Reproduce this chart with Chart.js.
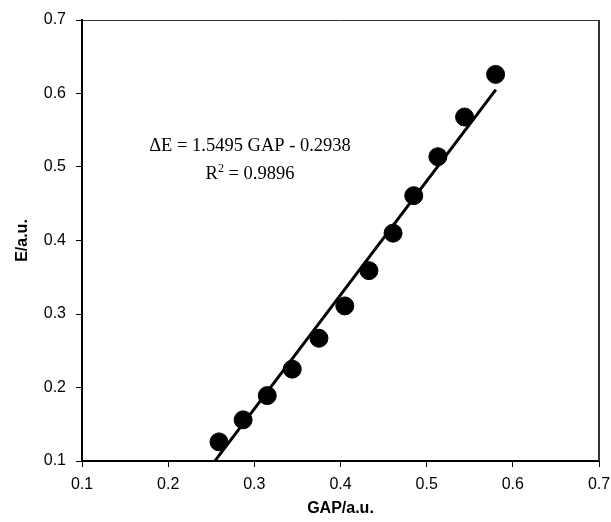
<!DOCTYPE html>
<html>
<head>
<meta charset="utf-8">
<script src="https://cdn.jsdelivr.net/npm/chart.js@4/dist/chart.umd.min.js"></script>
<style>
  body { margin: 0; background: #fff; }
  #wrap { width: 611px; height: 522px; }
</style>
</head>
<body>
<div id="wrap"><canvas id="chart" width="611" height="522"></canvas></div>
<script>
const GAP_VALUES = [0.259, 0.287, 0.315, 0.344, 0.375, 0.405, 0.433, 0.461, 0.485, 0.513, 0.544, 0.580];
const E_VALUES = [0.126, 0.156, 0.189, 0.225, 0.267, 0.311, 0.359, 0.410, 0.461, 0.514, 0.568, 0.626];

// trendline as printed on the figure
const FIT_SLOPE = 1.5495;
const FIT_INTERCEPT = -0.2938;
const FIT_RANGE = [0.2541, 0.5803];
const FIT_LABEL = "\u0394E = 1.5495 GAP - 0.2938";
const FIT_R2 = " = 0.9896";

const AXIS_MIN = 0.1;
const AXIS_MAX = 0.7;

function ScatterChart(chartId) {
  this.chartId = chartId;
  this.chart = null;
}

ScatterChart.prototype.init = function () {
  const points = GAP_VALUES.map((x, i) => ({ x: x, y: E_VALUES[i] }));
  const fitLine = FIT_RANGE.map((x) => ({ x: x, y: FIT_SLOPE * x + FIT_INTERCEPT }));
  this.render(points, fitLine);
};

ScatterChart.prototype.axis = function (title, isY) {
  return {
    type: "linear",
    min: AXIS_MIN,
    max: AXIS_MAX,
    afterFit: (scale) => {
      // the last x label is allowed to run off the canvas, like the original
      scale.paddingLeft = 0;
      scale.paddingRight = 0;
      scale.paddingTop = 0;
      scale.paddingBottom = 0;
      if (isY) scale.width = 82;
      else scale.height = 61;
    },
    ticks: {
      stepSize: 0.1,
      color: "#000",
      padding: isY ? 10 : 8,
      font: { family: "Liberation Sans, Arial", size: 16 },
      callback: (v) => v.toFixed(1),
    },
    grid: {
      display: true,
      drawOnChartArea: false,
      drawTicks: true,
      tickLength: 6,
      color: "#000",
    },
    border: { display: true, color: "#000", width: 2 },
    title: {
      display: true,
      text: title,
      color: "#000",
      font: { family: "Liberation Sans, Arial", size: 16, weight: "bold" },
      padding: isY ? { top: 13, bottom: 0 } : { top: 0, bottom: 4 },
    },
  };
};

// closes the box and writes the regression text
const frameAndLabel = {
  id: "frameAndLabel",
  afterDraw(chart) {
    const ctx = chart.ctx;
    const a = chart.chartArea;
    const big = "18.5px 'Liberation Serif', 'Times New Roman'";
    const small = "12px 'Liberation Serif', 'Times New Roman'";
    ctx.save();
    ctx.strokeStyle = "#333";
    ctx.lineWidth = 1;
    ctx.beginPath();
    ctx.moveTo(a.left, a.top + 0.5);
    ctx.lineTo(a.right, a.top + 0.5);
    ctx.stroke();
    ctx.lineWidth = 2;
    ctx.beginPath();
    ctx.moveTo(a.right, a.top);
    ctx.lineTo(a.right, a.bottom);
    ctx.stroke();

    const cx = chart.scales.x.getPixelForValue(0.295);
    const y1 = chart.scales.y.getPixelForValue(0.528);
    const y2 = chart.scales.y.getPixelForValue(0.490);
    ctx.fillStyle = "#000";
    ctx.textBaseline = "middle";
    ctx.font = big;
    ctx.textAlign = "center";
    ctx.fillText(FIT_LABEL, cx, y1);

    ctx.textAlign = "left";
    const wR = ctx.measureText("R").width;
    const wRest = ctx.measureText(FIT_R2).width;
    ctx.font = small;
    const wSup = ctx.measureText("2").width;
    const x = cx - (wR + wSup + wRest) / 2;
    ctx.font = big;
    ctx.fillText("R", x, y2);
    ctx.font = small;
    ctx.fillText("2", x + wR, y2 - 6);
    ctx.font = big;
    ctx.fillText(FIT_R2, x + wR + wSup, y2);
    ctx.restore();
  },
};

ScatterChart.prototype.render = function (points, fitLine) {
  const ctx = document.getElementById(this.chartId).getContext("2d");
  if (this.chart) {
    this.chart.destroy();
  }
  this.chart = new Chart(ctx, {
    type: "scatter",
    data: {
      datasets: [
        {
          label: "fit",
          type: "line",
          data: fitLine,
          borderColor: "#000",
          borderWidth: 3,
          pointRadius: 0,
          fill: false,
        },
        {
          label: "E",
          data: points,
          backgroundColor: "#000",
          borderColor: "#000",
          pointRadius: 9,
          pointHoverRadius: 9,
        },
      ],
    },
    options: {
      responsive: false,
      animation: false,
      layout: { padding: { left: 0, right: 12, top: 20, bottom: 0 } },
      scales: {
        x: this.axis("GAP/a.u.", false),
        y: this.axis("E/a.u.", true),
      },
      plugins: {
        legend: { display: false },
        tooltip: { enabled: false },
      },
    },
    plugins: [frameAndLabel],
  });
};

new ScatterChart("chart").init();
</script>
</body>
</html>
